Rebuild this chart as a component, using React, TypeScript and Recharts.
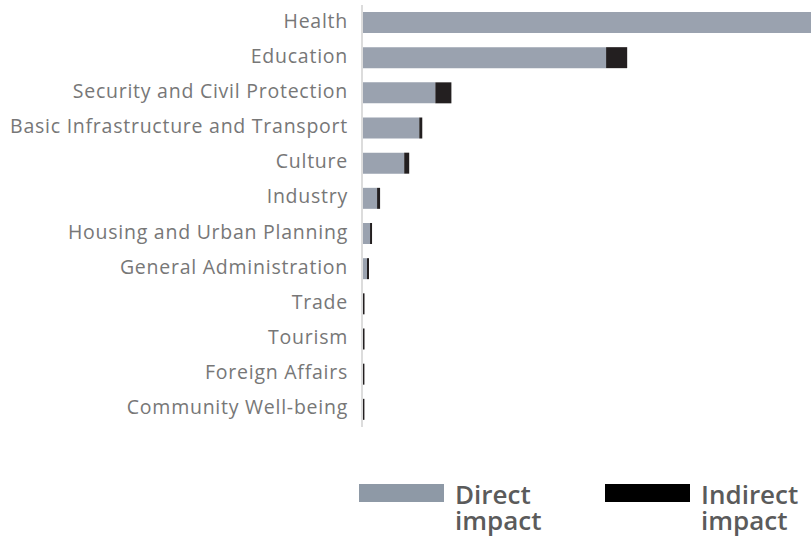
import { Bar, BarChart, XAxis, YAxis } from 'recharts';

const categories = [
  'Health',
  'Education',
  'Security and Civil Protection',
  'Basic Infrastructure and Transport',
  'Culture',
  'Industry',
  'Housing and Urban Planning',
  'General Administration',
  'Trade',
  'Tourism',
  'Foreign Affairs',
  'Community Well-being',
];

const directImpact = [447, 243, 73, 57, 42, 15, 8, 5, 0.5, 0.5, 0.4, 0.4];
const indirectImpact = [0, 21, 16, 3, 5, 3, 2, 2, 2, 2, 2, 2];

const seriesNames = ['Direct\nimpact', 'Indirect\nimpact'];
const seriesColors = ['#9aa2af', '#231f20'];
const legendColors = ['#8e99a6', '#000000'];

const data = categories.map((name, i) => ({
  name,
  direct: directImpact[i],
  indirect: indirectImpact[i],
}));

const FONT = '"Open Sans", "Noto Sans", sans-serif';

export default function App() {
  return (
    <div style={{ position: 'absolute', left: 0, top: 0, width: 811, height: 542, fontFamily: FONT }}>
      <BarChart
        width={811}
        height={542}
        data={data}
        layout="vertical"
        barSize={21}
        margin={{ top: 5, right: 0, bottom: 115, left: 0 }}
      >
        <XAxis type="number" domain={[0, 447]} hide allowDataOverflow />
        <YAxis
          type="category"
          dataKey="name"
          width={362}
          axisLine={{ stroke: '#dcdcdc', strokeWidth: 2 }}
          tickLine={false}
          tickMargin={8}
          interval={0}
          tick={{ fontSize: 19.5, fill: '#777777', fontFamily: FONT, fontWeight: 400, letterSpacing: 0.75, dy: -2 }}
        />
        <Bar dataKey="direct" stackId="a" fill={seriesColors[0]} isAnimationActive={false} />
        <Bar dataKey="indirect" stackId="a" fill={seriesColors[1]} isAnimationActive={false} />
      </BarChart>
      {seriesNames.map((label, i) => (
        <div
          key={label}
          style={{ position: 'absolute', top: 481, left: i === 0 ? 359 : 605, display: 'flex', alignItems: 'flex-start' }}
        >
          <div style={{ width: 85, height: 18, marginTop: 3, background: legendColors[i] }} />
          <div
            style={{
              marginLeft: 11,
              fontSize: 26,
              lineHeight: '26px',
              fontWeight: 600,
              color: '#5b5b5b',
              whiteSpace: 'pre',
            }}
          >
            {label}
          </div>
        </div>
      ))}
    </div>
  );
}
